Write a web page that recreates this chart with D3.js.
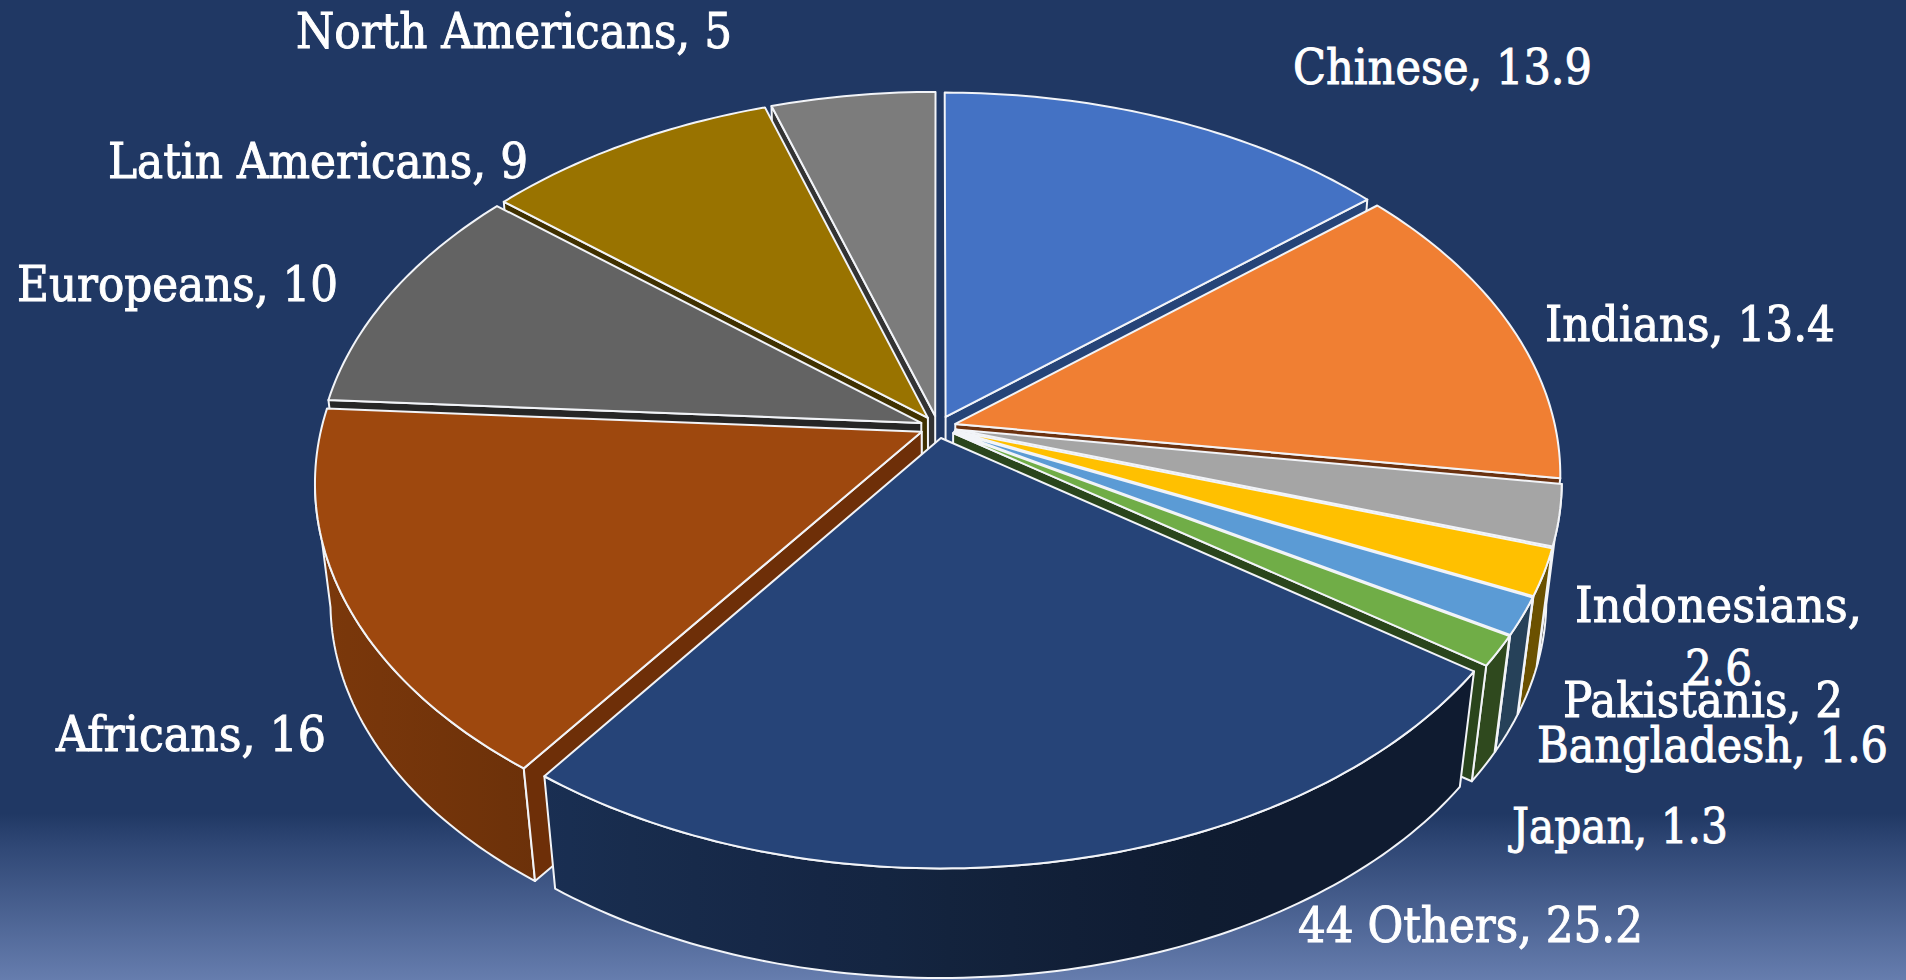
<!DOCTYPE html>
<html><head><meta charset="utf-8">
<script src="https://cdn.jsdelivr.net/npm/d3@7/dist/d3.min.js"></script>
<style>html,body{margin:0;padding:0;background:#203864;overflow:hidden}</style>
</head><body><svg id="c" width="1906" height="980"></svg>
<script>
const categories=["Chinese","Indians","Indonesians","Pakistanis","Bangladesh","Japan","44 Others","Africans","Europeans","Latin Americans","North Americans"];
const values=[13.9,13.4,2.6,2,1.6,1.3,25.2,16,10,9,5];
const colors=["#4472C4","#F07F33","#A5A5A5","#FFC000","#5B9BD5","#70AD47","#264478","#9E480E","#636363","#997300","#7C7C7C"];
const wallColors=["#264478","#6B3210","#4a4a4a","#6B5200","#22415A","#2A451C","#152848","#6E2F08","#262626","#3F3000","#333333"];
// label text runs: [text, left, right, baseline]
const labelRuns=[
 ["Chinese, 13.9",1293,1592,84],
 ["Indians, 13.4",1545,1835,341],
 ["Indonesians,",1575,1862,622],
 ["2.6",1685,1752,685],
 ["Pakistanis, 2",1563,1843,717],
 ["Bangladesh, 1.6",1537,1888,762],
 ["Japan, 1.3",1512,1728,843],
 ["44 Others, 25.2",1298,1643,942],
 ["Africans, 16",56,326,751],
 ["Europeans, 10",17,338,301],
 ["Latin Americans, 9",108,528,178],
 ["North Americans, 5",296,732,48]
];
const W=1906,H=980,cx=938,cy=427,R=600,Ry=370,D=122,k=0.133,m=0.025,explode=0.03;
const svg=d3.select("#c");
const defs=svg.append("defs");
const bg=defs.append("linearGradient").attr("id","bg").attr("x1",0).attr("y1",0).attr("x2",0).attr("y2",1);
[[0,"#203864"],[0.83,"#203864"],[0.86,"#2e4674"],[1,"#667DAE"]].forEach(s=>bg.append("stop").attr("offset",s[0]).attr("stop-color",s[1]));
svg.append("rect").attr("width",W).attr("height",H).attr("fill","url(#bg)");

const px=d3.scaleLinear().domain([-1,1]).range([cx-R,cx+R]);
const py=d3.scaleLinear().domain([-1,1]).range([cy-Ry,cy+Ry]);
function project(u,v,h){const s=1/(1-k*v+m*h);return [px(u*s),py(v*s)+D*h];}
const line=d3.line();
const pie=d3.pie().sort(null).value(d=>d)(values);
const shade=d3.scaleLinear().domain([316,547,1216,1580]).range([.78,.68,.40,.40]).clamp(true);

const slices=pie.map((p,i)=>{
  const mid=(p.startAngle+p.endAngle)/2;
  return {i,a0:p.startAngle,a1:p.endAngle,mid,ox:explode*Math.sin(mid),oy:-explode*Math.cos(mid)};
});
slices.forEach(s=>{
  const g=defs.append("linearGradient").attr("id","side"+s.i).attr("gradientUnits","userSpaceOnUse")
    .attr("x1",316).attr("y1",0).attr("x2",1580).attr("y2",0);
  d3.range(0,1.0001,0.05).forEach(t=>{
    const x=316+t*(1580-316);
    const c=d3.rgb(colors[s.i]);
    const f=(s.i===6)?shade(x):Math.max(shade(x),.42);
    g.append("stop").attr("offset",t).attr("stop-color",d3.rgb(c.r*f,c.g*f,c.b*f).formatHex());
  });
});
const order=slices.slice().sort((a,b)=>(-Math.cos(a.mid))-(-Math.cos(b.mid)));
const root=svg.append("g").attr("stroke","#f2f4f8").attr("stroke-width",2).attr("stroke-linejoin","round");
order.forEach(s=>{
  const pt=(th,r,h)=>project(s.ox+r*Math.sin(th),s.oy-r*Math.cos(th),h);
  const n=Math.max(4,Math.ceil((s.a1-s.a0)*180/Math.PI));
  const ths=d3.range(n+1).map(j=>s.a0+(s.a1-s.a0)*j/n);
  const g=root.append("g");
  const apex=pt(0,0,0);
  const top=ths.map(t=>pt(t,1,0));
  // outer wall: only the stretch of rim that faces the viewer (x falling along the sweep)
  const facing=ths.filter((t,j)=>j<n&&top[j+1][0]<top[j][0]||j>0&&top[j][0]<top[j-1][0]);
  if(facing.length>1){
    const a=facing.map(t=>pt(t,1,0)), b=facing.map(t=>pt(t,1,1)).reverse();
    g.append("path").attr("d",line(a.concat(b))+"Z").attr("fill","url(#side"+s.i+")");
  }
  // radial walls that face the viewer
  const wall=th=>g.append("path").attr("d",line([pt(th,0,0),pt(th,1,0),pt(th,1,1),pt(th,0,1)])+"Z").attr("fill",wallColors[s.i]);
  if(pt(s.a0,1,0)[0]<apex[0]-1) wall(s.a0);
  if(pt(s.a1,1,0)[0]>apex[0]+1) wall(s.a1);
  g.append("path").attr("d",line([apex].concat(top))+"Z").attr("fill",colors[s.i]);
});
svg.append("g").selectAll("text").data(labelRuns).join("text")
  .attr("x",d=>d[1]).attr("y",d=>d[3]).attr("textLength",d=>d[2]-d[1]).attr("lengthAdjust","spacingAndGlyphs")
  .attr("font-family","'DejaVu Serif Condensed','DejaVu Serif','Liberation Serif',serif").attr("font-stretch","condensed").attr("font-size",48).attr("fill","#fff")
  .attr("stroke","#fff").attr("stroke-width",0.9).text(d=>d[0]);
</script></body></html>
